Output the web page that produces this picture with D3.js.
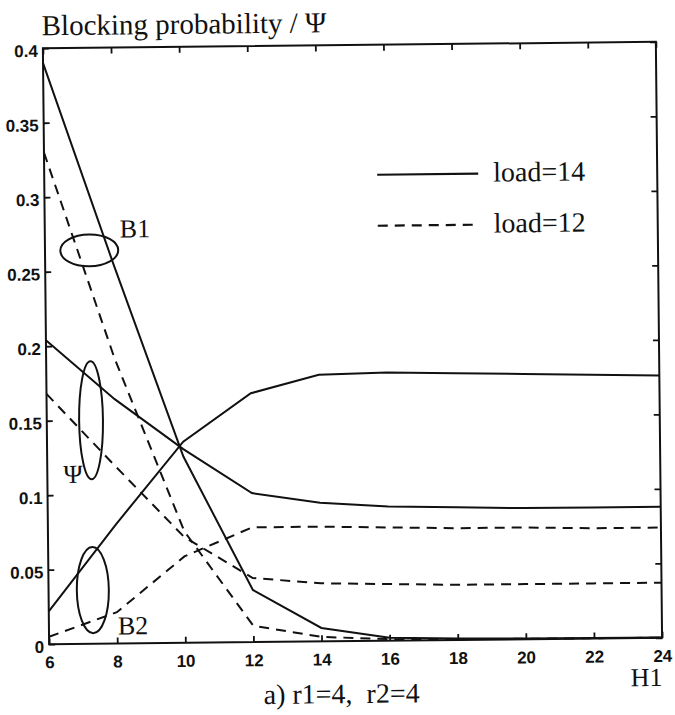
<!DOCTYPE html>
<html lang="en">
<head>
<meta charset="utf-8">
<script src="https://cdn.jsdelivr.net/npm/d3@7"></script>
<style>
  body { margin: 0; background: #fff; }
  .serif { font-family: "Liberation Serif", "Times New Roman", serif; fill: #111; }
  .tick text { font-family: "Liberation Sans", Arial, sans-serif; font-weight: bold; font-size: 17px; fill: #111; }
</style>
</head>
<body>
<script>
// H1 values along the x axis
var h1 = [6, 8, 10, 12, 14, 16, 18, 20, 22, 24];

// load = 14 (solid)
var b1Load14  = [0.390, 0.255, 0.125, 0.035, 0.009, 0.002, 0.001, 0.0005, 0.0003, 0.0002];
var b2Load14  = [0.022, 0.080, 0.135, 0.167, 0.179, 0.180, 0.179, 0.178, 0.177, 0.176];
var psiLoad14 = [0.204, 0.164, 0.130, 0.100, 0.093, 0.090, 0.089, 0.088, 0.088, 0.088];

// load = 12 (dashed)
var b1Load12  = [0.330, 0.192, 0.075, 0.011, 0.003, 0.001, 0.0005, 0.0003, 0.0002, 0.0001];
var b2Load12  = [0.005, 0.021, 0.058, 0.077, 0.077, 0.076, 0.075, 0.075, 0.074, 0.074];
var psiLoad12 = [0.168, 0.119, 0.071, 0.043, 0.039, 0.038, 0.037, 0.037, 0.037, 0.037];

var xTicks = [6, 8, 10, 12, 14, 16, 18, 20, 22, 24];
var yTicks = [0, 0.05, 0.1, 0.15, 0.2, 0.25, 0.3, 0.35, 0.4];
var yTickLabels = ["0", "0.05", "0.1", "0.15", "0.2", "0.25", "0.3", "0.35", "0.4"];

// curve groups marked with ellipses: centre H1, centre value, radius in H1, radius in value
var groupNames = ["B1", "\u03A8", "B2"];
var ellipseCx = [7.30, 7.30, 7.30];
var ellipseCy = [0.264, 0.150, 0.036];
var ellipseRx = [0.85, 0.35, 0.47];
var ellipseRy = [0.0107, 0.0396, 0.0289];

var width = 675, height = 715;
var plotLeft = 46, plotRight = 659, plotTop = 45, plotBottom = 641;

var x = d3.scaleLinear().domain([6, 24]).range([plotLeft, plotRight]);
var y = d3.scaleLinear().domain([0, 0.4]).range([plotBottom, plotTop]);

var svg = d3.select("body").append("svg")
    .attr("width", width)
    .attr("height", height);

svg.append("rect").attr("width", width).attr("height", height).attr("fill", "#fff");

// the scanned figure sits slightly rotated
var g = svg.append("g").attr("transform", "rotate(-0.6,355,345)");

var series = [
    { values: b1Load14, dash: null },
    { values: b2Load14, dash: null },
    { values: psiLoad14, dash: null },
    { values: b1Load12, dash: "10,7" },
    { values: b2Load12, dash: "10,7" },
    { values: psiLoad12, dash: "10,7" }
];

var line = d3.line()
    .x(function(d, i) { return x(h1[i]); })
    .y(function(d) { return y(d); });

g.selectAll(".series")
    .data(series)
    .enter()
    .append("path")
    .attr("class", "series")
    .attr("d", function(d) { return line(d.values); })
    .attr("fill", "none")
    .attr("stroke", "#111")
    .attr("stroke-width", 2)
    .attr("stroke-dasharray", function(d) { return d.dash; });

// axes with inward ticks on all sides
g.append("g")
    .attr("transform", "translate(0," + plotBottom + ")")
    .call(d3.axisBottom(x).tickValues(xTicks).tickSize(-6).tickPadding(12).tickFormat(d3.format("d")));
var yAxis = g.append("g")
    .attr("transform", "translate(" + plotLeft + ",0)")
    .call(d3.axisLeft(y).tickValues(yTicks).tickSize(-6).tickPadding(5)
        .tickFormat(function(d, i) { return yTickLabels[i]; }));
yAxis.selectAll("text").attr("dy", "0.48em");
g.append("g")
    .attr("transform", "translate(0," + plotTop + ")")
    .call(d3.axisTop(x).tickValues(xTicks).tickSize(-6).tickFormat(""));
g.append("g")
    .attr("transform", "translate(" + plotRight + ",0)")
    .call(d3.axisRight(y).tickValues(yTicks).tickSize(-6).tickFormat(""));

g.selectAll(".domain").remove();
g.selectAll(".tick line").attr("stroke", "#111").attr("stroke-width", 1.8);

g.append("rect")
    .attr("x", plotLeft).attr("y", plotTop)
    .attr("width", plotRight - plotLeft).attr("height", plotBottom - plotTop)
    .attr("fill", "none")
    .attr("stroke", "#111")
    .attr("stroke-width", 2);

// group ellipses
g.selectAll(".ring")
    .data(groupNames)
    .enter()
    .append("ellipse")
    .attr("class", "ring")
    .attr("cx", function(d, i) { return x(ellipseCx[i]); })
    .attr("cy", function(d, i) { return y(ellipseCy[i]); })
    .attr("rx", function(d, i) { return x(6 + ellipseRx[i]) - x(6); })
    .attr("ry", function(d, i) { return y(0) - y(ellipseRy[i]); })
    .attr("fill", "none")
    .attr("stroke", "#111")
    .attr("stroke-width", 2);

// group labels
var labelX = [121, 62, 115];
var labelY = [235, 480, 632];
g.selectAll(".glabel")
    .data(groupNames)
    .enter()
    .append("text")
    .attr("class", "serif glabel")
    .attr("x", function(d, i) { return labelX[i]; })
    .attr("y", function(d, i) { return labelY[i]; })
    .attr("font-size", 26)
    .text(function(d) { return d; });

// titles
g.append("text").attr("class", "serif")
    .attr("x", plotLeft - 1).attr("y", plotTop - 13)
    .attr("font-size", 29)
    .text("Blocking probability / \u03A8");

g.append("text").attr("class", "serif")
    .attr("x", 338).attr("y", 703)
    .attr("text-anchor", "middle")
    .attr("font-size", 28)
    .text("a) r1=4,\u00A0 r2=4");

g.append("text").attr("class", "serif")
    .attr("x", plotRight).attr("y", 689)
    .attr("text-anchor", "end")
    .attr("font-size", 26)
    .text("H1");

// legend
var legendNames = ["load=14", "load=12"];
var legendDash = [null, "10,7"];
var legend = g.selectAll(".legend")
    .data(legendNames)
    .enter()
    .append("g")
    .attr("class", "legend")
    .attr("transform", function(d, i) { return "translate(379," + (175 + i * 51) + ")"; });

legend.append("line")
    .attr("x1", 0).attr("x2", 101)
    .attr("stroke", "#111")
    .attr("stroke-width", 2.2)
    .attr("stroke-dasharray", function(d, i) { return legendDash[i]; });

legend.append("text")
    .attr("class", "serif")
    .attr("x", 116).attr("y", 8)
    .attr("font-size", 28)
    .text(function(d) { return d; });
</script>
</body>
</html>
